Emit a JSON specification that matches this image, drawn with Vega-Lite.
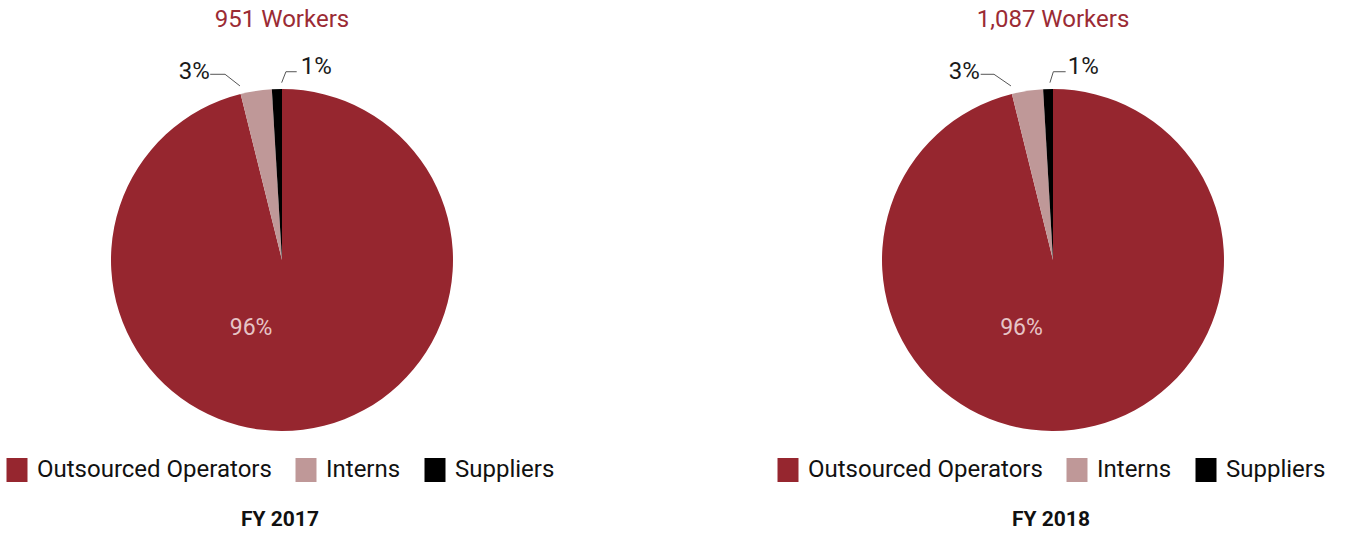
{
  "$schema": "https://vega.github.io/schema/vega-lite/v6.json",
  "padding": {"left": 0, "top": 8, "right": 0, "bottom": 0},
  "background": "white",
  "config": {
    "view": {"stroke": null},
    "font": "Roboto",
    "title": {"font": "Roboto", "fontSize": 24, "fontWeight": "normal", "color": "#9b2b34", "anchor": "middle", "frame": "group", "baseline": "alphabetic", "offset": 23}
  },
  "datasets": {
    "slices": [
      {"year": "FY 2017", "category": "Outsourced Operators", "workers": 914, "idx": 1},
      {"year": "FY 2017", "category": "Interns", "workers": 28, "idx": 2},
      {"year": "FY 2017", "category": "Suppliers", "workers": 9, "idx": 3},
      {"year": "FY 2018", "category": "Outsourced Operators", "workers": 1045, "idx": 1},
      {"year": "FY 2018", "category": "Interns", "workers": 32, "idx": 2},
      {"year": "FY 2018", "category": "Suppliers", "workers": 10, "idx": 3}
    ],
    "labels": [
      {"year": "FY 2017", "text": "96%", "pos": "inside", "x": -0.181, "y": -0.398},
      {"year": "FY 2017", "text": "3%", "pos": "outside", "x": -0.513, "y": 1.1},
      {"year": "FY 2017", "text": "1%", "pos": "outside", "x": 0.2, "y": 1.126},
      {"year": "FY 2018", "text": "96%", "pos": "inside", "x": -0.184, "y": -0.398},
      {"year": "FY 2018", "text": "3%", "pos": "outside", "x": -0.519, "y": 1.1},
      {"year": "FY 2018", "text": "1%", "pos": "outside", "x": 0.177, "y": 1.126}
    ],
    "leaders": [
      {"year": "FY 2017", "line": "3%", "pt": 1, "x": -0.42, "y": 1.086},
      {"year": "FY 2017", "line": "3%", "pt": 2, "x": -0.333, "y": 1.086},
      {"year": "FY 2017", "line": "3%", "pt": 3, "x": -0.246, "y": 1.018},
      {"year": "FY 2017", "line": "1%", "pt": 1, "x": -0.002, "y": 1.037},
      {"year": "FY 2017", "line": "1%", "pt": 2, "x": 0.023, "y": 1.101},
      {"year": "FY 2017", "line": "1%", "pt": 3, "x": 0.086, "y": 1.101},
      {"year": "FY 2018", "line": "3%", "pt": 1, "x": -0.423, "y": 1.086},
      {"year": "FY 2018", "line": "3%", "pt": 2, "x": -0.345, "y": 1.086},
      {"year": "FY 2018", "line": "3%", "pt": 3, "x": -0.246, "y": 1.018},
      {"year": "FY 2018", "line": "1%", "pt": 1, "x": -0.018, "y": 1.037},
      {"year": "FY 2018", "line": "1%", "pt": 2, "x": 0.002, "y": 1.101},
      {"year": "FY 2018", "line": "1%", "pt": 3, "x": 0.074, "y": 1.101}
    ]
  },
  "spacing": 207,
  "resolve": {"scale": {"color": "independent", "x": "independent", "y": "independent", "theta": "independent"}, "legend": {"color": "independent"}},
  "hconcat": [
    {
      "width": 564,
      "height": 380,
      "title": {"text": "951 Workers"},
      "layer": [
        {
          "data": {"name": "slices"},
          "transform": [{"filter": "datum.year == 'FY 2017'"}],
          "mark": {"type": "arc", "outerRadius": 171, "strokeWidth": 0},
          "encoding": {
            "theta": {"field": "workers", "type": "quantitative", "stack": true},
            "order": {"field": "idx", "type": "quantitative"},
            "color": {
              "field": "category", "type": "nominal",
              "scale": {"domain": ["Outsourced Operators", "Interns", "Suppliers"], "range": ["#96262f", "#bf9898", "#000000"]},
              "legend": {
                "title": "FY 2017", "orient": "none", "legendX": 5, "legendY": 388, "direction": "horizontal",
                "symbolType": "M-0.875,-1H0.875V1H-0.875Z", "symbolSize": 576, "symbolStrokeWidth": 0,
                "labelFont": "Roboto", "labelFontSize": 24, "labelColor": "#111111", "labelOffset": 8, "labelLimit": 400,
                "columnPadding": 22, "titleOrient": "bottom", "titleAnchor": "middle", "titleFont": "Roboto",
                "titleFontSize": 21, "titleFontWeight": "bold", "titleColor": "#111111", "titlePadding": 27
              }
            }
          }
        },
        {
          "data": {"name": "leaders"},
          "transform": [{"filter": "datum.year == 'FY 2017'"}],
          "mark": {"type": "line", "color": "#555555", "strokeWidth": 1},
          "encoding": {
            "x": {"field": "x", "type": "quantitative", "scale": {"domain": [-1.6491, 1.6491], "nice": false, "zero": false}, "axis": null},
            "y": {"field": "y", "type": "quantitative", "scale": {"domain": [-1.1111, 1.1111], "nice": false, "zero": false}, "axis": null},
            "detail": {"field": "line"},
            "order": {"field": "pt", "type": "quantitative"}
          }
        },
        {
          "data": {"name": "labels"},
          "transform": [{"filter": "datum.year == 'FY 2017' && datum.pos == 'outside'"}],
          "mark": {"type": "text", "fontSize": 24, "font": "Roboto", "color": "#1a1a1a", "align": "center", "baseline": "middle"},
          "encoding": {
            "x": {"field": "x", "type": "quantitative", "scale": {"domain": [-1.6491, 1.6491], "nice": false, "zero": false}, "axis": null},
            "y": {"field": "y", "type": "quantitative", "scale": {"domain": [-1.1111, 1.1111], "nice": false, "zero": false}, "axis": null},
            "text": {"field": "text"}
          }
        },
        {
          "data": {"name": "labels"},
          "transform": [{"filter": "datum.year == 'FY 2017' && datum.pos == 'inside'"}],
          "mark": {"type": "text", "fontSize": 23, "font": "Roboto", "color": "#e6c4c6", "align": "center", "baseline": "middle"},
          "encoding": {
            "x": {"field": "x", "type": "quantitative", "scale": {"domain": [-1.6491, 1.6491], "nice": false, "zero": false}, "axis": null},
            "y": {"field": "y", "type": "quantitative", "scale": {"domain": [-1.1111, 1.1111], "nice": false, "zero": false}, "axis": null},
            "text": {"field": "text"}
          }
        }
      ]
    },
    {
      "width": 564,
      "height": 380,
      "title": {"text": "1,087 Workers"},
      "layer": [
        {
          "data": {"name": "slices"},
          "transform": [{"filter": "datum.year == 'FY 2018'"}],
          "mark": {"type": "arc", "outerRadius": 171, "strokeWidth": 0},
          "encoding": {
            "theta": {"field": "workers", "type": "quantitative", "stack": true},
            "order": {"field": "idx", "type": "quantitative"},
            "color": {
              "field": "category", "type": "nominal",
              "scale": {"domain": ["Outsourced Operators", "Interns", "Suppliers"], "range": ["#96262f", "#bf9898", "#000000"]},
              "legend": {
                "title": "FY 2018", "orient": "none", "legendX": 5, "legendY": 388, "direction": "horizontal",
                "symbolType": "M-0.875,-1H0.875V1H-0.875Z", "symbolSize": 576, "symbolStrokeWidth": 0,
                "labelFont": "Roboto", "labelFontSize": 24, "labelColor": "#111111", "labelOffset": 8, "labelLimit": 400,
                "columnPadding": 22, "titleOrient": "bottom", "titleAnchor": "middle", "titleFont": "Roboto",
                "titleFontSize": 21, "titleFontWeight": "bold", "titleColor": "#111111", "titlePadding": 27
              }
            }
          }
        },
        {
          "data": {"name": "leaders"},
          "transform": [{"filter": "datum.year == 'FY 2018'"}],
          "mark": {"type": "line", "color": "#555555", "strokeWidth": 1},
          "encoding": {
            "x": {"field": "x", "type": "quantitative", "scale": {"domain": [-1.6491, 1.6491], "nice": false, "zero": false}, "axis": null},
            "y": {"field": "y", "type": "quantitative", "scale": {"domain": [-1.1111, 1.1111], "nice": false, "zero": false}, "axis": null},
            "detail": {"field": "line"},
            "order": {"field": "pt", "type": "quantitative"}
          }
        },
        {
          "data": {"name": "labels"},
          "transform": [{"filter": "datum.year == 'FY 2018' && datum.pos == 'outside'"}],
          "mark": {"type": "text", "fontSize": 24, "font": "Roboto", "color": "#1a1a1a", "align": "center", "baseline": "middle"},
          "encoding": {
            "x": {"field": "x", "type": "quantitative", "scale": {"domain": [-1.6491, 1.6491], "nice": false, "zero": false}, "axis": null},
            "y": {"field": "y", "type": "quantitative", "scale": {"domain": [-1.1111, 1.1111], "nice": false, "zero": false}, "axis": null},
            "text": {"field": "text"}
          }
        },
        {
          "data": {"name": "labels"},
          "transform": [{"filter": "datum.year == 'FY 2018' && datum.pos == 'inside'"}],
          "mark": {"type": "text", "fontSize": 23, "font": "Roboto", "color": "#e6c4c6", "align": "center", "baseline": "middle"},
          "encoding": {
            "x": {"field": "x", "type": "quantitative", "scale": {"domain": [-1.6491, 1.6491], "nice": false, "zero": false}, "axis": null},
            "y": {"field": "y", "type": "quantitative", "scale": {"domain": [-1.1111, 1.1111], "nice": false, "zero": false}, "axis": null},
            "text": {"field": "text"}
          }
        }
      ]
    }
  ]
}
